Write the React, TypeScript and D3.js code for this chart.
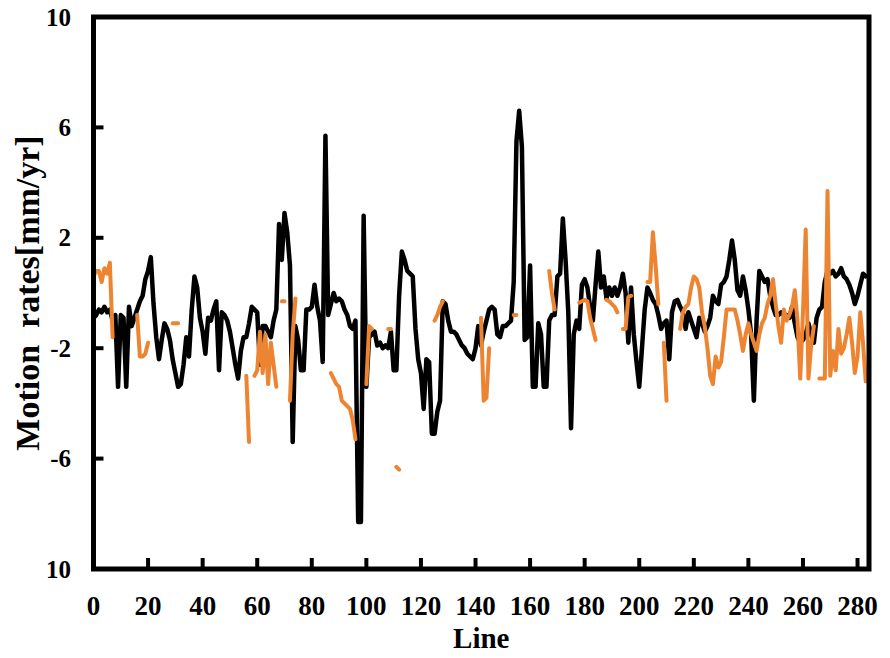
import * as d3 from "d3";

// x axis ticks (line number) and y axis ticks (mm/yr)
const xTicks = [0, 20, 40, 60, 80, 100, 120, 140, 160, 180, 200, 220, 240, 260, 280];
const yTicks = [10, 6, 2, -2, -6, -10];
const yTickLabels = ["10", "6", "2", "-2", "-6", "10"];

// black series, one value per line 0..283
const blackRates = [
  -0.9, -0.8, -0.6, -0.7, -0.5, -0.7, -0.6, -1.0, -0.8, -3.4,
  -0.8, -0.9, -3.4, -0.5, -1.2, -0.9, -0.6, -0.3, -0.1, 0.5,
  0.8, 1.3, -0.4, -1.6, -2.4, -1.7, -1.1, -1.3, -1.7, -2.4,
  -2.9, -3.4, -3.3, -2.6, -1.6, -2.3, -0.6, 0.6, 0.2, -0.9,
  -1.4, -2.2, -0.9, -1.0, -0.6, -0.3, -2.8, -0.7, -0.8, -1.0,
  -1.4, -2.0, -2.6, -3.1, -2.1, -1.6, -1.6, -1.1, -0.5, -0.6,
  -0.7, -2.6, -1.2, -1.2, -1.4, -1.6, -1.0, -0.6, 2.5, 1.2,
  2.9, 2.2, 1.0, -5.4, -1.2, -1.7, -2.8, -2.8, -0.6, -0.6,
  -0.5, 0.3, -0.5, -1.0, -2.5, 5.7, -0.8, -0.4, 0.0, -0.3,
  -0.2, -0.3, -0.6, -0.8, -1.2, -1.3, -1.0, -8.3, -8.3, 2.8,
  -3.4, -1.6, -1.5, -1.4, -1.9, -1.8, -2.0, -1.9, -2.0, -1.4,
  -2.8, -2.8, -0.1, 1.5, 1.2, 0.8, 0.7, 0.6, -1.3, -2.4,
  -2.9, -4.2, -2.4, -2.5, -5.1, -5.1, -4.3, -3.9, -0.3, -0.4,
  -1.0, -1.4, -1.4, -1.5, -1.7, -1.9, -2.0, -2.2, -2.3, -2.4,
  -2.0, -1.2, -1.9, -1.4, -1.0, -0.6, -0.5, -0.6, -1.5, -1.6,
  -1.2, -1.2, -1.1, -1.0, 0.4, 5.5, 6.6, 5.3, -1.7, -1.6,
  1.0, -3.4, -3.4, -1.1, -1.5, -3.4, -3.4, -1.0, -0.8, -0.8,
  0.6, 0.7, 2.7, 1.2, -0.7, -4.9, -1.5, -1.0, -1.3, 0.3,
  0.5, 0.2, -0.5, -1.0, 0.3, 1.5, 0.2, 0.6, -0.2, 0.2,
  -0.1, 0.2, -0.1, 0.2, 0.7, 0.0, -1.8, 0.2, -1.5, -2.5,
  -3.4, -2.0, -0.6, 0.2, 0.0, -0.25, -0.4, -0.8, -1.3, -1.1,
  -1.0, -2.4, -0.7, -0.3, -0.25, -0.5, -0.7, -1.3, -0.7, -1.0,
  -1.3, -1.6, -0.9, -1.1, -1.4, -1.2, -0.9, -0.1, -0.3, -0.4,
  0.3, 0.4, 0.6, 1.2, 1.9, 1.2, 0.1, -0.1, 0.6, 0.1,
  -0.6, -1.5, -3.9, -1.0, 0.8, 0.6, 0.4, 0.5, -0.1, -0.5,
  -0.8, -0.8, -0.7, -0.8, -0.8, -0.9, -0.5, -1.1, -1.6, -1.8,
  -1.7, -1.5, -1.1, -1.5, -1.8, -0.9, -0.6, -0.5, 0.4, 0.8,
  0.7, 0.8, 0.6, 0.7, 0.9, 0.6, 0.5, 0.3, 0.0, -0.4,
  -0.1, 0.3, 0.7, 0.6,
];

// orange series, null where the line has a gap
const _ = null;
const orangeRates: (number | null)[] = [
  0.6, 0.8, 0.8, 0.4, 0.9, 0.7, 1.1, -1.6, _, _,
  _, _, _, _, _, _, -0.8, -2.3, -2.3, -2.2,
  -1.8, _, _, _, _, _, _, _, _, -1.1,
  -1.1, -1.1, _, _, _, _, _, _, _, _,
  _, _, _, _, _, _, _, _, _, _,
  _, _, _, _, _, _, -3.0, -5.4, _, -3.0,
  -2.8, -1.4, -2.9, -1.5, -3.3, -1.8, -2.6, -3.4, _, -0.3,
  -0.3, _, -3.9, -1.5, -0.2, _, _, _, _, _,
  _, _, _, _, _, _, _, -2.9, -3.1, -3.3,
  -3.4, -3.9, -4.0, -4.1, -4.2, -4.6, -5.3, _, _, _,
  -3.3, -1.2, -1.3, _, _, _, _, _, -1.3, -1.3,
  _, -6.3, -6.4, _, _, _, _, _, _, _,
  _, _, _, _, _, -1.0, -0.8, -0.5, -0.3, _,
  _, _, _, _, _, _, _, _, _, _,
  _, _, -0.9, -3.9, -3.8, -2.0, _, _, _, _,
  _, _, _, _, -0.8, -0.8, _, _, _, _,
  _, _, _, _, _, _, _, 0.8, 0.0, -0.6,
  _, _, _, _, _, _, _, _, -0.35, -0.3,
  -0.25, -0.3, -0.9, -1.3, -1.7, _, _, _, -0.25, -0.3,
  -0.4, -0.5, -0.7, _, -1.3, -1.3, -0.15, -0.1, _, _,
  _, _, _, 0.4, 0.4, 2.2, 1.0, -0.4, _, -1.8,
  -3.9, _, _, _, _, -1.3, -0.7, -0.5, -0.4, 0.2,
  0.6, 0.5, 0.2, -0.7, -1.2, -2.0, -3.0, -3.3, -2.3, -2.7,
  -2.5, -1.6, -0.6, -0.6, -0.6, -0.6, -1.0, -1.5, -2.1, -1.5,
  -1.1, -1.5, -1.8, -2.1, -1.5, -1.1, -0.9, -0.4, -0.1, 0.5,
  -0.4, -1.2, -1.8, -0.6, -1.0, -0.8, -0.5, 0.1, -1.0, -3.1,
  -0.7, 2.3, -3.1, -1.9, -1.2, _, -3.1, -3.1, -3.1, 3.7,
  -3.0, -2.1, -2.8, -1.3, -2.2, -2.0, -1.5, -0.9, -1.8, -2.9,
  -2.3, -0.7, -1.8, -3.2,
];

const font = "'Liberation Serif', 'Times New Roman', serif";

export default function App() {
  const width = 890;
  const height = 658;

  const x = d3.scaleLinear().domain([0, 284.2]).range([93.5, 869]);
  const y = d3.scaleLinear().domain([-10, 10]).range([569, 17]);

  const line = d3
    .line<number | null>()
    .defined((d) => d !== null)
    .x((_d, i) => x(i))
    .y((d) => y(d as number));

  const [x0, x1] = x.range();
  const [y0, y1] = y.range();

  return (
    <svg
      width={width}
      height={height}
      style={{ position: "absolute", left: 0, top: 0, background: "#fff" }}
    >
      {/* series */}
      <path
        d={line(blackRates) ?? ""}
        fill="none"
        stroke="#000"
        strokeWidth={4.5}
        strokeLinejoin="round"
        strokeLinecap="round"
      />
      <path
        d={line(orangeRates) ?? ""}
        fill="none"
        stroke="#EC8432"
        strokeWidth={4}
        strokeLinejoin="round"
        strokeLinecap="round"
      />

      {/* frame */}
      <rect
        x={x0}
        y={y1}
        width={x1 - x0}
        height={y0 - y1}
        fill="none"
        stroke="#000"
        strokeWidth={5}
      />

      {/* x ticks (inward) */}
      {xTicks.map((t) => (
        <g key={"x" + t}>
          {t > 0 && (
            <line x1={x(t)} x2={x(t)} y1={y0} y2={y0 - 11} stroke="#000" strokeWidth={4} />
          )}
          <text
            x={x(t)}
            y={615}
            textAnchor="middle"
            fontFamily={font}
            fontWeight="bold"
            fontSize={27}
          >
            {t}
          </text>
        </g>
      ))}

      {/* y ticks (inward) */}
      {yTicks.map((t, i) => (
        <g key={"y" + t}>
          {Math.abs(t) < 10 && (
            <line x1={x0} x2={x0 + 10} y1={y(t)} y2={y(t)} stroke="#000" strokeWidth={4} />
          )}
          <text
            x={71}
            y={y(t)}
            textAnchor="end"
            dominantBaseline="central"
            fontFamily={font}
            fontWeight="bold"
            fontSize={25}
          >
            {yTickLabels[i]}
          </text>
        </g>
      ))}

      {/* axis titles */}
      <text
        x={(x0 + x1) / 2}
        y={648}
        textAnchor="middle"
        fontFamily={font}
        fontWeight="bold"
        fontSize={29}
      >
        Line
      </text>
      <text
        transform={`translate(39, ${(y0 + y1) / 2}) rotate(-90)`}
        textAnchor="middle"
        fontFamily={font}
        fontWeight="bold"
        fontSize={34}
        style={{ whiteSpace: "pre" }}
      >
        {"Motion  rates[mm/yr]"}
      </text>
    </svg>
  );
}
